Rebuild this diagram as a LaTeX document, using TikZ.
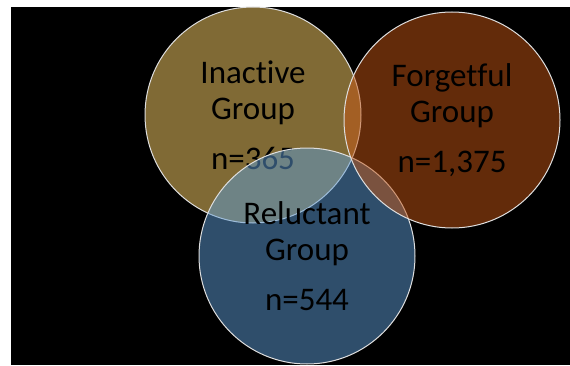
\documentclass[tikz,border=0pt]{standalone}
\usepackage{fontspec}
\setmainfont{Carlito}[Ligatures=NoCommon]
\usepackage{xcolor}
\usetikzlibrary{shapes,positioning}

\definecolor{inactivecol}{RGB}{255,212,106}
\definecolor{reluctantcol}{RGB}{94,156,214}
\definecolor{forgetcol}{RGB}{198,86,20}
\definecolor{rimcol}{RGB}{222,222,222}

\begin{document}
\begin{tikzpicture}[x=1pt,y=1pt,
  group/.style={circle, draw=rimcol, line width=1pt, fill opacity=0.5,
    text opacity=1, minimum size=216pt, inner sep=0pt, align=center,
    font=\fontsize{33}{36}\selectfont, text=black}]
% Background
\useasboundingbox (0,0) rectangle (570,365);
\fill[black] (11,0) rectangle (570,358);

% Groups
\node[group, fill=inactivecol] (inactive) at (253,250) {Inactive\\Group\\[14pt]n=365};
\node[group, fill=reluctantcol] (reluctant) at (307,109) {Reluctant\\Group\\[14pt]n=544};
\node[group, fill=forgetcol] (forgetful) at (452,245) {Forgetful\\Group\\[14pt]n=1,375};

\end{tikzpicture}
\end{document}
